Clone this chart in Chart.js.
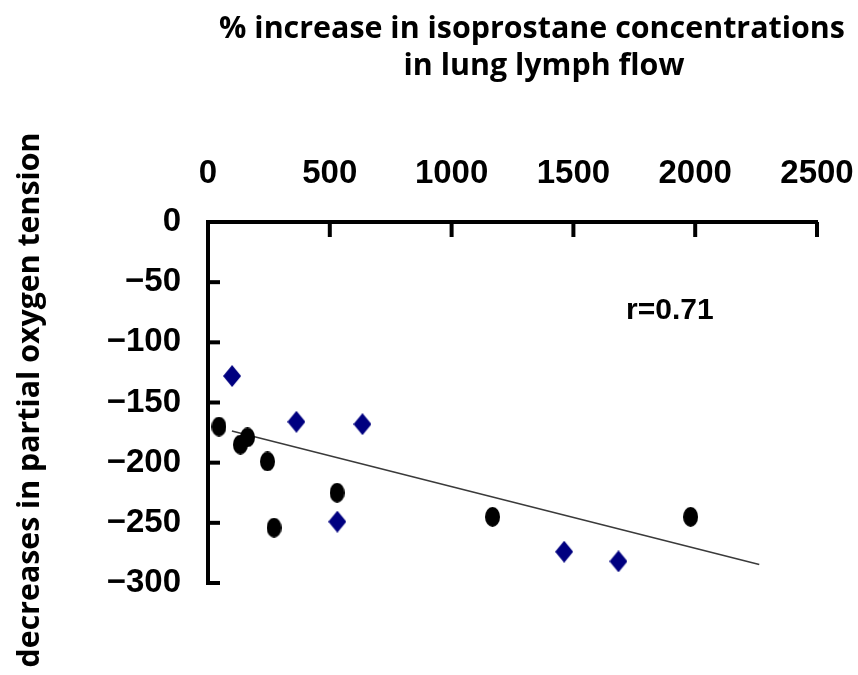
<!DOCTYPE html>
<html><head><meta charset="utf-8">
<script src="https://cdn.jsdelivr.net/npm/chart.js@4.4.0/dist/chart.umd.min.js"></script>
<style>html,body{margin:0;padding:0;background:#fff;}</style>
</head><body>
<canvas id="c" width="858" height="675"></canvas>
<script>
// ---- data ----
const xTicks = [0, 500, 1000, 1500, 2000, 2500];
const yTicks = [0, -50, -100, -150, -200, -250, -300];
const circleX = [45, 133, 162, 244, 271, 530, 1168, 1981];
const circleY = [-170, -185, -179, -199, -254, -225, -245, -245];
const diamondX = [99, 363, 634, 531, 1462, 1685];
const diamondY = [-128, -166, -168, -249, -274, -282];
const trendX = [98, 2263];
const trendY = [-173.6, -284.6];
const xTitleLines = ['% increase in isoprostane concentrations', 'in lung lymph flow'];
const yTitle = 'decreases in partial oxygen tension';
const rLabel = 'r=0.71';

const toPts = (xs, ys) => xs.map((x, i) => ({x: x, y: ys[i]}));

function ellipseImg(w, h, color) {
  const c = document.createElement('canvas'); c.width = w; c.height = h;
  const g = c.getContext('2d'); g.fillStyle = color;
  g.beginPath(); g.ellipse(w / 2, h / 2, w / 2, h / 2, 0, 0, Math.PI * 2); g.fill();
  return c;
}
function diamondImg(w, h, color) {
  const c = document.createElement('canvas'); c.width = w; c.height = h;
  const g = c.getContext('2d'); g.fillStyle = color;
  g.beginPath(); g.moveTo(w / 2, 0); g.lineTo(w, h / 2); g.lineTo(w / 2, h); g.lineTo(0, h / 2); g.closePath(); g.fill();
  return c;
}

const tickFont = {family: "'Liberation Sans', Arial, sans-serif", size: 33, weight: 'bold'};

function fitFont(ctx, text, weight, family, target) {
  ctx.font = weight + ' 30px ' + family;
  const w = ctx.measureText(text).width;
  return weight + ' ' + (30 * target / w).toFixed(2) + 'px ' + family;
}

const decor = {
  id: 'decor',
  afterDraw(chart) {
    const ctx = chart.ctx, xs = chart.scales.x, ys = chart.scales.y;
    ctx.save();
    ctx.strokeStyle = '#000'; ctx.lineWidth = 4; ctx.lineCap = 'butt';
    const y0 = ys.getPixelForValue(0), x0 = xs.getPixelForValue(0);
    xTicks.forEach(v => { if (v === 0) return; const p = xs.getPixelForValue(v);
      ctx.beginPath(); ctx.moveTo(p, y0); ctx.lineTo(p, y0 + 15); ctx.stroke(); });
    yTicks.forEach(v => { if (v === 0) return; const p = ys.getPixelForValue(v);
      ctx.beginPath(); ctx.moveTo(x0 - 2, p); ctx.lineTo(x0 + 12, p); ctx.stroke(); });
    ctx.fillStyle = '#000';
    ctx.textAlign = 'center'; ctx.textBaseline = 'alphabetic';
    const fam = "'Open Sans', 'Liberation Sans', sans-serif";
    ctx.font = fitFont(ctx, xTitleLines[0], 'bold', fam, 626);
    ctx.fillText(xTitleLines[0], 532, 38);
    ctx.fillText(xTitleLines[1], 544, 75);
    ctx.font = "bold 30px 'Liberation Sans', Arial, sans-serif";
    ctx.textBaseline = 'middle';
    ctx.fillText(rLabel, xs.getPixelForValue(1896), ys.getPixelForValue(-74));
    ctx.font = fitFont(ctx, yTitle, 'bold', fam, 535);
    ctx.textBaseline = 'alphabetic';
    ctx.translate(39, 400); ctx.rotate(-Math.PI / 2);
    ctx.fillText(yTitle, 0, 0);
    ctx.restore();
  }
};

new Chart(document.getElementById('c'), {
  type: 'scatter',
  data: {
    datasets: [
      {label: 'circles', data: toPts(circleX, circleY), pointStyle: ellipseImg(15, 20, '#000000'), order: 1},
      {label: 'diamonds', data: toPts(diamondX, diamondY), pointStyle: diamondImg(18, 22, '#000080'), order: 2},
      {label: 'trend', type: 'line', data: toPts(trendX, trendY), showLine: true, pointRadius: 0,
       borderColor: '#3a3a3a', borderWidth: 1.5, fill: false, order: 3}
    ]
  },
  options: {
    responsive: false, animation: false, devicePixelRatio: 1,
    layout: {padding: {left: 0, top: 0, right: 41, bottom: 92}},
    plugins: {legend: {display: false}, tooltip: {enabled: false}},
    scales: {
      x: {type: 'linear', position: 'top', min: 0, max: 2500,
          afterBuildTicks: s => { s.ticks = xTicks.map(v => ({value: v})); },
          afterFit: s => { s.height = 222; s.paddingLeft = 0; s.paddingRight = 0; },
          grid: {display: false, drawTicks: false}, border: {display: true, color: '#000', width: 4},
          ticks: {color: '#000', font: tickFont, padding: 28, maxRotation: 0, autoSkip: false,
                  callback: v => String(v)}},
      y: {type: 'linear', position: 'left', min: -300, max: 0,
          afterBuildTicks: s => { s.ticks = yTicks.map(v => ({value: v})); },
          afterFit: s => { s.width = 208; s.paddingTop = 0; s.paddingBottom = 0; },
          grid: {display: false, drawTicks: false}, border: {display: true, color: '#000', width: 4},
          ticks: {color: '#000', font: tickFont, padding: 27, autoSkip: false,
                  callback: v => String(v).replace('-', '\u2212')}}
    }
  },
  plugins: [decor]
});
</script>
</body></html>
